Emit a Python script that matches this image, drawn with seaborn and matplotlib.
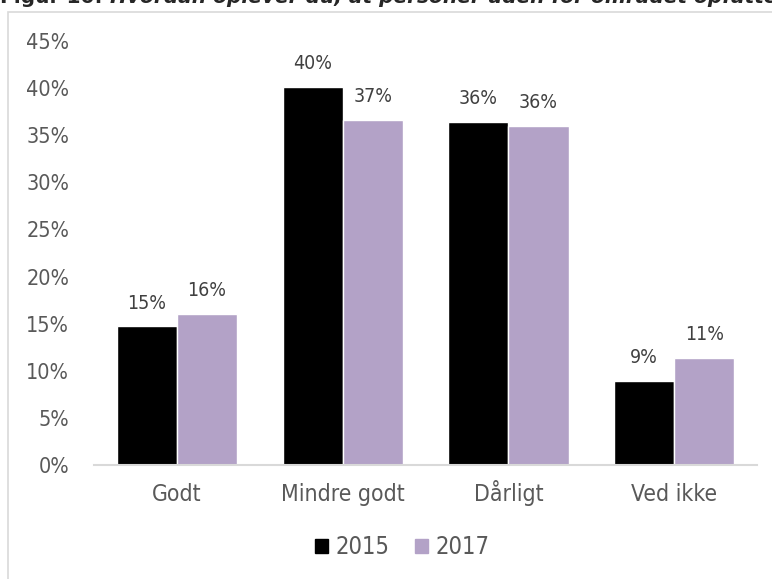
import pandas as pd
import matplotlib.pyplot as plt
import matplotlib.patches as mpatches
import seaborn as sns
from matplotlib.ticker import PercentFormatter

# Data
categories = ["Godt", "Mindre godt", "Dårligt", "Ved ikke"]
years = ["2015", "2017"]
share_2015 = [0.147, 0.401, 0.364, 0.089]
share_2017 = [0.160, 0.366, 0.360, 0.114]
yticks = [0, 0.05, 0.10, 0.15, 0.20, 0.25, 0.30, 0.35, 0.40, 0.45]

sns.set_theme(style="white")
plt.rcParams['font.family'] = ['DejaVu Sans']
plt.rcParams['font.stretch'] = 'condensed'

TEXT = "#595959"
colors = {"2015": "#000000", "2017": "#B3A2C7"}

df = pd.DataFrame({
    "Kategori": categories * 2,
    "Aar": [years[0]] * len(categories) + [years[1]] * len(categories),
    "Andel": share_2015 + share_2017,
})

fig = plt.figure(figsize=(7.72, 5.79), dpi=100)
ax = fig.add_axes([0.1218, 0.197, 0.859, 0.732])

sns.barplot(data=df, x="Kategori", y="Andel", hue="Aar", palette=colors,
            width=0.724, gap=0, ax=ax, legend=False, saturation=1)

for cont in ax.containers:
    labels = [f"{v * 100:.0f}%" for v in cont.datavalues]
    ax.bar_label(cont, labels=labels, padding=10, fontsize=14, color="#404040")

ax.set_ylim(0, 0.45)
ax.set_xlim(-0.5, 3.5)
ax.set_yticks(yticks)
ax.yaxis.set_major_formatter(PercentFormatter(1.0, decimals=0))
ax.set_xlabel("")
ax.set_ylabel("")
ax.tick_params(axis="y", labelsize=15.5, colors=TEXT, length=0, pad=18)
ax.tick_params(axis="x", labelsize=16.5, colors=TEXT, length=0, pad=26)
# keep all category names on one baseline (the Å would push Dårligt down)
for lbl in ax.get_xticklabels():
    lbl.set_verticalalignment("baseline")
for s in ["top", "right", "left"]:
    ax.spines[s].set_visible(False)
ax.spines["bottom"].set_color("#D9D9D9")
ax.spines["bottom"].set_linewidth(1.5)

# legend below the plot
handles = [mpatches.Patch(color=colors[y], label=y) for y in years]
fig.legend(handles=handles, loc="center", bbox_to_anchor=(0.521, 0.055), ncol=2,
           frameon=False, fontsize=17, labelcolor=TEXT, handlelength=0.55,
           handleheight=0.55, handletextpad=0.3, columnspacing=1.1)

# chart border (extends past the right and bottom edges)
border = mpatches.Rectangle((0.0104, -0.05), 1.1, 1.029, transform=fig.transFigure,
                            fill=False, edgecolor="#D9D9D9", linewidth=1.2)
fig.add_artist(border)

# caption cut off at the top of the picture
t1 = fig.text(0.0, 0.9945, "Figur 10: ", fontsize=14.5, fontweight="bold", va="baseline",
              family="DejaVu Sans", stretch="normal")
fig.add_artist(plt.Annotation("Hvordan oplever du, at personer uden for området opfatter",
                              xy=(1, 0), xycoords=t1, va="bottom", ha="left",
                              fontsize=14.5, fontweight="bold", style="italic",
                              family="DejaVu Sans", stretch="normal"))

fig.savefig("out.png", dpi=100)
